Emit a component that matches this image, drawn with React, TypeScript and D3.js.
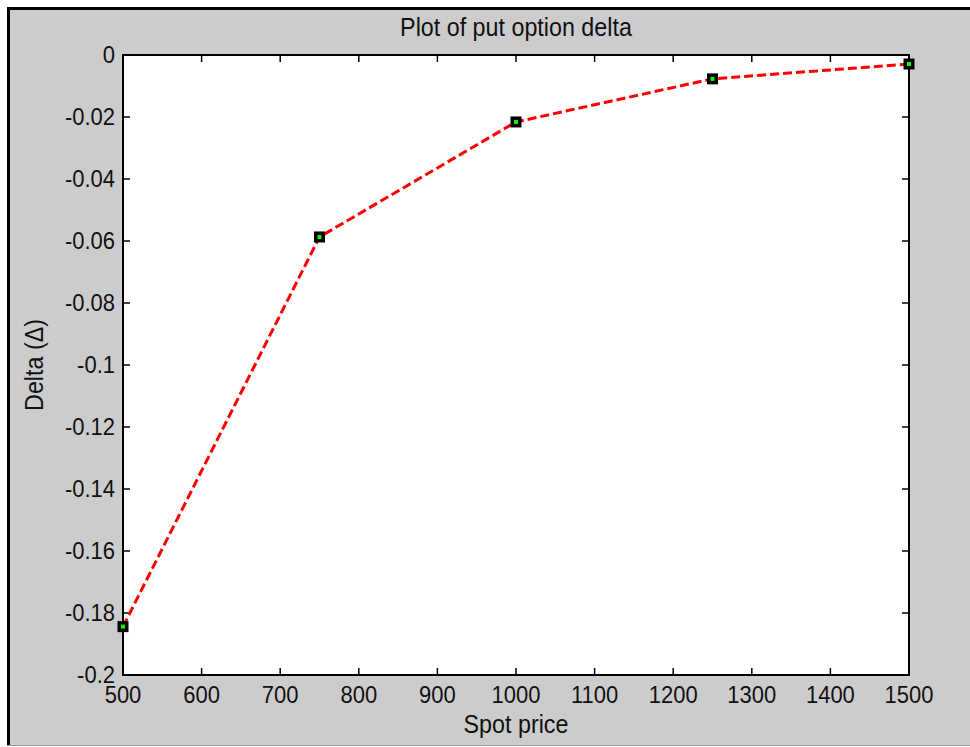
import React from "react";
import * as d3 from "d3";

const spotPrices = [500, 750, 1000, 1250, 1500];
const putDelta = [-0.1844, -0.0587, -0.0216, -0.0077, -0.0029];
const xTicks = [500, 600, 700, 800, 900, 1000, 1100, 1200, 1300, 1400, 1500];
const yTicks = [0, -0.02, -0.04, -0.06, -0.08, -0.1, -0.12, -0.14, -0.16, -0.18, -0.2];
const titleText = "Plot of put option delta";
const xLabelText = "Spot price";
const yLabelText = "Delta (\u0394)";

const W = 970;
const H = 747;
const left = 123;
const right = 909;
const top = 55;
const bottom = 675;

const fmtY = (v: number) => (v === 0 ? "0" : String(+v.toFixed(2)));

export default function App() {
  const x = d3.scaleLinear().domain([500, 1500]).range([left, right]);
  const y = d3.scaleLinear().domain([-0.2, 0]).range([bottom, top]);
  const pts = spotPrices.map((s, i) => [s, putDelta[i]] as [number, number]);
  const line = d3
    .line<[number, number]>()
    .x((d) => x(d[0]))
    .y((d) => y(d[1]));
  const font = "'Liberation Sans', Arial, sans-serif";
  const txt = "#111";
  const tl = 7;
  const ms = 7.5;
  return (
    <svg
      width={W}
      height={H}
      style={{ position: "absolute", left: 0, top: 0 }}
      xmlns="http://www.w3.org/2000/svg"
    >
      <rect x={0} y={0} width={W} height={H} fill="#ffffff" />
      <rect x={7} y={7} width={W - 7} height={738} fill="#cccccc" />
      <line x1={8.5} y1={7} x2={8.5} y2={745} stroke="#000" strokeWidth={3} />
      <line x1={7} y1={8.5} x2={W} y2={8.5} stroke="#000" strokeWidth={3} />
      <line x1={7} y1={745.5} x2={W} y2={745.5} stroke="#999" strokeWidth={1} />
      <rect x={left} y={top} width={right - left} height={bottom - top} fill="#ffffff" />

      {xTicks.map((t) => (
        <g key={"xt" + t}>
          <line x1={x(t)} x2={x(t)} y1={bottom} y2={bottom - tl} stroke="#000" strokeWidth={1.5} />
          <line x1={x(t)} x2={x(t)} y1={top} y2={top + tl} stroke="#000" strokeWidth={1.5} />
          <text
            x={x(t)}
            y={703}
            textAnchor="middle"
            fontFamily={font}
            fontSize={22}
            fill={txt}
            transform={`translate(0,${703}) scale(1,1.08) translate(0,${-703})`}
          >
            {t}
          </text>
        </g>
      ))}
      {yTicks.map((t) => (
        <g key={"yt" + t}>
          <line x1={left} x2={left + tl} y1={y(t)} y2={y(t)} stroke="#000" strokeWidth={1.5} />
          <line x1={right} x2={right - tl} y1={y(t)} y2={y(t)} stroke="#000" strokeWidth={1.5} />
          <text
            x={115}
            y={y(t) + 8}
            textAnchor="end"
            fontFamily={font}
            fontSize={22}
            fill={txt}
            transform={`translate(0,${y(t) + 8}) scale(1,1.08) translate(0,${-(y(t) + 8)})`}
          >
            {fmtY(t)}
          </text>
        </g>
      ))}
      <rect
        x={left}
        y={top}
        width={right - left}
        height={bottom - top}
        fill="none"
        stroke="#000"
        strokeWidth={2}
      />

      <path
        d={line(pts) || ""}
        fill="none"
        stroke="#ff0000"
        strokeWidth={3}
        strokeDasharray="9,4"
      />
      {pts.map((p, i) => (
        <rect
          key={"m" + i}
          x={x(p[0]) - ms / 2}
          y={y(p[1]) - ms / 2}
          width={ms}
          height={ms}
          fill="#00ff00"
          stroke="#000"
          strokeWidth={3.5}
        />
      ))}

      <text
        x={(left + right) / 2}
        y={36}
        textAnchor="middle"
        fontFamily={font}
        fontSize={23.3}
        fill={txt}
        transform={`translate(0,36) scale(1,1.08) translate(0,-36)`}
      >
        {titleText}
      </text>
      <text
        x={(left + right) / 2}
        y={733}
        textAnchor="middle"
        fontFamily={font}
        fontSize={23.3}
        fill={txt}
        transform={`translate(0,733) scale(1,1.08) translate(0,-733)`}
      >
        {xLabelText}
      </text>
      <text
        transform={`translate(43,${(top + bottom) / 2}) rotate(-90) scale(1,1.08)`}
        textAnchor="middle"
        fontFamily={font}
        fontSize={23.3}
        fill={txt}
      >
        {yLabelText}
      </text>
    </svg>
  );
}
